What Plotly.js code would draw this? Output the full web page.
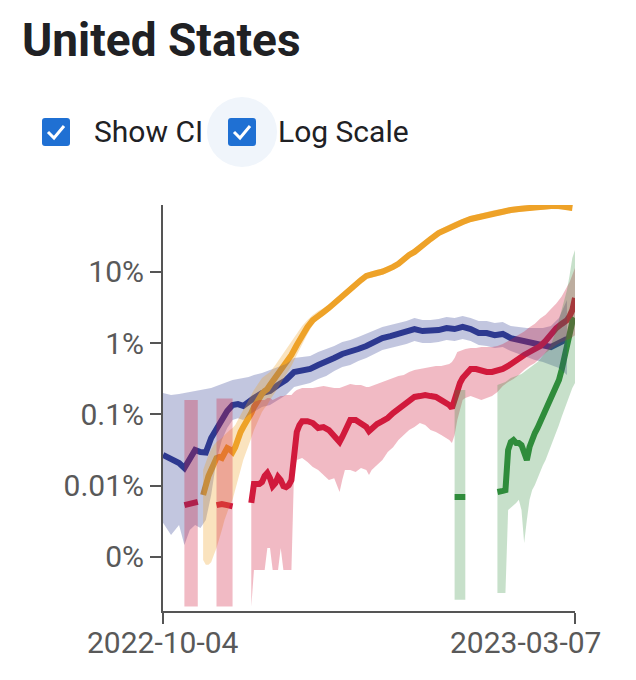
<!DOCTYPE html>
<html><head><meta charset="utf-8">
<script src="https://cdn.plot.ly/plotly-3.0.1.min.js"></script>
<style>html,body{margin:0;padding:0;background:#fff;}#chart{width:636px;height:680px;}</style>
</head><body><div id="chart"></div>
<script>
const startDate = '2022-10-04';
const endDate = '2023-03-07';
const yTickVals = [10, 1, 0.1, 0.01, 0.001];
const yTickText = ['10%', '1%', '0.1%', '0.01%', '0%'];

// days since startDate; values in percent
const blueDays = [0,3,6,8,10,12,14,16,18,20,22,24,26,28,30,32,34,37,40,43,46,49,52,55,58,61,64,67,70,73,76,79,82,85,88,91,94,97,100,103,106,109,112,115,118,121,124,127,130,133,136,139,142,145,148,151];
const blueMid = [0.0268,0.0236,0.0207,0.0176,0.0243,0.0315,0.0295,0.029,0.0464,0.0641,0.0886,0.111,0.135,0.139,0.131,0.153,0.169,0.199,0.212,0.257,0.303,0.392,0.418,0.432,0.491,0.541,0.616,0.701,0.748,0.824,0.908,1.03,1.17,1.25,1.34,1.43,1.57,1.47,1.47,1.52,1.62,1.57,1.68,1.57,1.38,1.38,1.29,1.34,1.17,1.10,1.03,1.00,0.94,0.88,1.00,1.14];
const blueHi = [0.199,0.186,0.193,0.199,0.205,0.212,0.219,0.226,0.233,0.249,0.266,0.284,0.303,0.313,0.323,0.333,0.356,0.379,0.418,0.461,0.507,0.616,0.636,0.657,0.748,0.824,0.907,1.033,1.10,1.21,1.34,1.52,1.68,1.79,1.91,2.04,2.24,2.10,2.10,2.17,2.32,2.24,2.39,2.24,2.04,2.04,1.91,1.97,1.73,1.68,1.62,1.62,1.62,1.73,2.24,4.02];
const blueLo = [0.0030,0.00202,0.00279,0.00146,0.00237,0.00279,0.00253,0.00328,0.00736,0.0228,0.0435,0.0641,0.083,0.088,0.083,0.098,0.108,0.126,0.135,0.158,0.186,0.241,0.257,0.275,0.313,0.344,0.405,0.461,0.491,0.559,0.616,0.70,0.798,0.851,0.907,0.968,1.067,1.0,1.0,1.033,1.10,1.067,1.14,1.067,0.937,0.907,0.851,0.879,0.772,0.70,0.636,0.577,0.541,0.491,0.446,0.356];

const orangeDays = [15,16,17,18,19,20,21,22,23,24,25,26,27,28,29,30,31,32,33,34,35,36,37,38,39,40,42,44,46,48,50,52,54,56,58,60,62,64,66,68,70,72,74,76,78,80,82,84,86,88,90,92,94,96,98,100,103,106,109,112,115,118,121,124,127,130,133,136,139,142,145,148,151,153];
const orangeMid = [0.00736,0.0108,0.0136,0.0165,0.0207,0.0243,0.0251,0.0243,0.0286,0.0336,0.032,0.0295,0.0345,0.0464,0.0563,0.0662,0.0754,0.0886,0.104,0.126,0.149,0.169,0.193,0.212,0.226,0.257,0.323,0.418,0.541,0.679,0.937,1.295,1.68,2.10,2.47,2.72,3.10,3.64,4.15,4.88,5.73,6.53,7.66,8.73,9.31,9.6,10,10.6,11.7,12.9,15.1,17.2,19.0,22.2,25.3,28.8,35.0,39.9,45.5,50.0,55.1,58.8,62.7,66.8,69.0,73.6,76.0,78.5,81.1,81.1,83.8,83.8,82,78.5];
const orangeHi = [0.0165,0.0214,0.0268,0.032,0.037,0.0408,0.0435,0.0464,0.0513,0.0563,0.0601,0.0641,0.0706,0.083,0.098,0.115,0.135,0.158,0.186,0.219,0.249,0.284,0.323,0.344,0.367,0.392,0.491,0.636,0.798,1.033,1.34,1.73,2.10,2.47,2.81,3.10,3.4,4.0,4.57,5.37,6.3,7.18,8.43,9.6,10.2,10.6,11,11.7,12.9,14.2,16.6,18.9,20.9,24.4,27.8,31.7,38.5,43.9,50.0,55.0,60.6,64.7,69.0,73.5,75.9,81.0,83.6,86.4,89.2,89.2,92.2,92.2,90.2,86.4];
const orangeLo = [0.0009,0.00077,0.00077,0.00084,0.00106,0.00133,0.0017,0.00237,0.00328,0.00425,0.0053,0.0063,0.0086,0.012,0.0165,0.0228,0.0296,0.037,0.0464,0.0601,0.073,0.0886,0.108,0.122,0.135,0.158,0.205,0.266,0.356,0.476,0.679,0.968,1.34,1.79,2.17,2.39,2.82,3.31,3.78,4.44,5.21,5.94,6.97,7.94,8.47,8.74,9.1,9.65,10.6,11.7,13.7,15.7,17.3,20.2,23.0,26.2,31.9,36.3,41.4,45.5,50.1,53.5,57.1,60.8,62.8,67.0,69.2,71.4,73.8,73.8,76.3,76.3,74.6,71.4];

const redDays = [8,10,12,13,16,20,22,24,26,29,33,34,36,37,38,39,40,41,42,43,44,45,46,47,48,49,50,51,52,54,56,58,60,62,64,66,67,68,70,72,74,76,77,78,80,82,84,86,88,90,92,94,96,98,100,102,104,106,107,108,109,110,111,112,113,115,117,119,121,123,125,127,129,131,133,135,137,139,141,143,145,147,149,151,152,153,154];
const redMid = [0.00532,0.0055,0.0057,0.0059,null,0.0053,0.0055,0.0053,0.0051,null,
  0.0057,0.0105,
  0.0105,0.0112,0.0136,0.0150,0.0127,0.0098,0.0108,0.0132,0.0119,0.0098,0.0095,0.0101,0.0119,0.0268,0.0563,0.0706,0.080,
  0.080,0.0754,0.0641,0.0662,0.060,0.0495,0.0408,
  0.048,
  0.060,0.083,0.083,0.073,0.0662,
  0.058,
  0.0641,0.073,0.080,0.0886,0.104,0.118,0.135,0.158,0.175,0.18,0.186,0.18,0.175,0.158,0.144,
  0.135,0.122,0.169,0.205,0.275,0.323,0.356,
  0.432,0.432,0.405,0.392,0.392,0.405,0.432,0.476,0.541,0.616,0.679,0.748,0.824,0.907,1.067,1.34,1.62,1.85,2.10,
  2.39,2.90,4.28];
const redHi = [0.158,0.158,0.158,0.158,null,0.166,0.166,0.166,0.166,null,
  0.135,0.149,
  0.158,0.158,0.158,0.169,0.169,0.158,0.164,0.169,0.18,0.18,0.186,0.186,0.186,0.205,0.219,0.226,0.233,
  0.233,0.233,0.241,0.249,0.241,0.233,0.233,
  0.241,
  0.249,0.266,0.257,0.257,0.241,
  0.241,
  0.249,0.266,0.284,0.303,0.323,0.344,0.356,0.392,0.418,0.432,0.446,0.461,0.476,0.476,0.491,
  0.507,0.541,0.616,0.748,0.772,0.798,0.824,
  0.851,0.851,0.879,0.879,0.879,0.907,0.968,1.067,1.175,1.3,1.45,1.66,1.87,2.2,2.5,3.0,3.6,4.5,6.0,
  7.18,9.0,11.3];
const redLo = [0.0002,0.0002,0.0002,0.0002,null,0.0002,0.0002,0.0002,0.0002,null,
  0.0002,0.00065,
  0.00065,0.00065,0.00065,0.00133,0.00133,0.00065,0.00065,0.00065,0.00133,0.00065,0.00065,0.00065,0.00065,0.0165,0.0228,0.0235,0.0243,
  0.0214,0.0182,0.0165,0.014,0.012,0.0127,0.0081,
  0.012,
  0.0165,0.0165,0.0155,0.0176,0.0165,
  0.014,
  0.0165,0.0193,0.0228,0.0296,0.0345,0.0435,0.0513,0.0601,0.0662,0.0754,0.0706,0.0601,0.0563,0.0513,0.0464,
  0.0435,0.0395,0.0513,0.083,0.115,0.158,0.169,
  0.18,0.169,0.158,0.169,0.18,0.205,0.249,0.284,0.313,0.356,0.418,0.476,0.524,0.616,0.724,0.824,0.937,1.033,1.10,
  1.14,1.21,1.29];

const greenDays = [109,110,111,112,113,119,125,126,127,128,129,130,131,132,133,134,135,136,137,138,139,140,141,142,143,144,145,146,147,148,149,150,151,152,153,154];
const greenMid = [0.0069,0.0069,0.0071,0.0069,0.0069,null,
  0.0081,0.0081,0.0084,0.0086,0.0315,0.0408,0.0435,0.0395,0.0395,0.037,0.0296,0.0228,0.0347,0.0464,0.0545,0.0641,0.078,0.0945,0.115,0.135,0.158,0.186,0.233,0.303,0.418,0.616,0.937,1.38,1.97,2.24];
const greenHi = [0.219,0.219,0.219,0.219,0.219,null,
  0.257,0.266,0.275,0.284,0.303,0.323,0.333,0.344,0.356,0.367,0.392,0.418,0.446,0.476,0.507,0.541,0.596,0.657,0.724,0.824,0.937,1.175,1.52,2.10,2.9,4.02,5.55,9.0,15.6,20.2];
const greenLo = [0.00025,0.00025,0.00025,0.00025,0.00025,null,
  0.00031,0.00031,0.00031,0.00031,0.00453,0.00483,0.00532,0.0057,0.0063,0.00453,0.00156,0.00328,0.0063,0.00865,0.0102,0.0127,0.0155,0.0193,0.0228,0.0268,0.0345,0.0435,0.0563,0.0706,0.0914,0.115,0.149,0.186,0.233,0.275];

const series = [
  {days: blueDays, mid: blueMid, lo: blueLo, hi: blueHi, line: '#2e3990', band: 'rgba(46,57,144,0.29)'},
  {days: orangeDays, mid: orangeMid, lo: orangeLo, hi: orangeHi, line: '#eea229', band: 'rgba(238,162,41,0.30)'},
  {days: redDays, mid: redMid, lo: redLo, hi: redHi, line: '#d11a3d', band: 'rgba(209,26,61,0.30)'},
  {days: greenDays, mid: greenMid, lo: greenLo, hi: greenHi, line: '#2f8c3b', band: 'rgba(47,140,59,0.27)'}
];

const t0 = new Date(startDate + 'T00:00:00Z').getTime();
const toDate = d => new Date(t0 + d * 86400000).toISOString().slice(0, 10);

const traces = [];
series.forEach(s => {
  traces.push({x: s.days.map(toDate), y: s.mid, mode: 'lines', connectgaps: false,
    line: {color: s.line, width: 6}, hoverinfo: 'skip'});
});
series.forEach(s => {
  let seg = [];
  const flush = () => {
    if (seg.length) {
      const xs = seg.map(i => toDate(s.days[i]));
      const x = xs.concat(xs.slice().reverse());
      const y = seg.map(i => s.hi[i]).concat(seg.map(i => s.lo[i]).reverse());
      traces.push({x, y, mode: 'lines', fill: 'toself', fillcolor: s.band,
        line: {width: 0, color: s.band}, hoverinfo: 'skip'});
    }
    seg = [];
  };
  s.days.forEach((d, i) => { if (s.mid[i] === null) flush(); else seg.push(i); });
  flush();
});

const W = 636, H = 680, ML = 163, MR = 61, MT = 205, MB = 69;
const PW = W - ML - MR, PH = H - MT - MB;
const px = x => (x - ML) / PW, py = y => (H - MB - y) / PH;
function roundRect(x0, y0, x1, y1, r) {
  return `M${px(x0 + r)},${py(y0)} L${px(x1 - r)},${py(y0)} Q${px(x1)},${py(y0)} ${px(x1)},${py(y0 + r)} ` +
    `L${px(x1)},${py(y1 - r)} Q${px(x1)},${py(y1)} ${px(x1 - r)},${py(y1)} L${px(x0 + r)},${py(y1)} ` +
    `Q${px(x0)},${py(y1)} ${px(x0)},${py(y1 - r)} L${px(x0)},${py(y0 + r)} Q${px(x0)},${py(y0)} ${px(x0 + r)},${py(y0)} Z`;
}
function check(x, y) {
  return `M${px(x + 6)},${py(y + 14)} L${px(x + 12)},${py(y + 20)} L${px(x + 22)},${py(y + 8)}`;
}
const boxBlue = '#1f70d3';
const shapes = [
  {type: 'circle', xref: 'paper', yref: 'paper', x0: px(207), x1: px(277), y0: py(167), y1: py(97),
    fillcolor: '#f0f5fb', line: {width: 0}, layer: 'above'},
  {type: 'path', xref: 'paper', yref: 'paper', path: roundRect(42, 118, 70, 146, 3), fillcolor: boxBlue, line: {width: 0}, layer: 'above'},
  {type: 'path', xref: 'paper', yref: 'paper', path: check(42, 118), line: {color: '#fff', width: 3}, layer: 'above'},
  {type: 'path', xref: 'paper', yref: 'paper', path: roundRect(228, 118, 256, 146, 3), fillcolor: boxBlue, line: {width: 0}, layer: 'above'},
  {type: 'path', xref: 'paper', yref: 'paper', path: check(228, 118), line: {color: '#fff', width: 3}, layer: 'above'}
];
const tickGrey = '#595959';
const annotations = [
  {text: 'United States', xref: 'paper', yref: 'paper', x: px(20), y: py(40), xanchor: 'left', yanchor: 'middle',
    showarrow: false, font: {family: 'Roboto', size: 46, weight: 700, color: '#202124'}},
  {text: 'Show CI', xref: 'paper', yref: 'paper', x: px(92), y: py(132), xanchor: 'left', yanchor: 'middle',
    showarrow: false, font: {family: 'Roboto', size: 30, color: '#202124'}},
  {text: 'Log Scale', xref: 'paper', yref: 'paper', x: px(276), y: py(132), xanchor: 'left', yanchor: 'middle',
    showarrow: false, font: {family: 'Roboto', size: 30, color: '#202124'}},
  {text: startDate, xref: 'paper', yref: 'paper', x: px(163), y: py(642), xanchor: 'center', yanchor: 'middle',
    showarrow: false, font: {family: 'Roboto', size: 30, color: tickGrey}},
  {text: endDate, xref: 'paper', yref: 'paper', x: px(525), y: py(642), xanchor: 'center', yanchor: 'middle',
    showarrow: false, font: {family: 'Roboto', size: 30, color: tickGrey}}
];

const layout = {
  width: W, height: H,
  margin: {l: ML, r: MR, t: MT, b: MB, pad: 0},
  paper_bgcolor: '#fff', plot_bgcolor: '#fff',
  showlegend: false,
  font: {family: 'Roboto, sans-serif', color: tickGrey},
  xaxis: {type: 'date', range: [startDate, endDate], tickvals: [startDate, endDate], ticktext: ['', ''],
    showgrid: false, zeroline: false, showline: true, linecolor: '#555', linewidth: 2,
    ticks: 'outside', ticklen: 11, tickwidth: 2, tickcolor: '#555', fixedrange: true},
  yaxis: {type: 'log', range: [-3.761, 1.937], tickvals: yTickVals, ticktext: yTickText,
    showgrid: false, zeroline: false, showline: true, linecolor: '#555', linewidth: 2,
    ticks: 'outside', ticklen: 11, tickwidth: 2, tickcolor: '#555',
    tickfont: {family: 'Roboto', size: 30, color: tickGrey}, fixedrange: true},
  shapes, annotations
};
Plotly.newPlot('chart', traces, layout, {staticPlot: true, displayModeBar: false});
</script></body></html>
